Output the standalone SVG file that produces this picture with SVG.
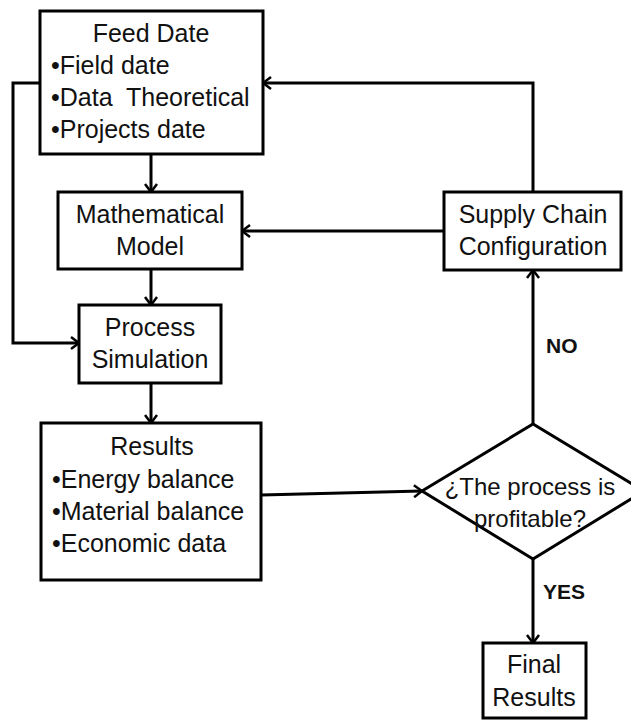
<svg xmlns="http://www.w3.org/2000/svg" width="631" height="720" viewBox="0 0 631 720">
<style>
.box{fill:#fff;stroke:#000;stroke-width:3}
.t{font-family:"Liberation Sans",Arial,sans-serif;font-size:25px;fill:#111}
.c{text-anchor:middle}
.d{font-size:24px}
.b{font-weight:bold;font-size:21px}
.ln{fill:none;stroke:#000;stroke-width:3}
</style>
<defs>
<marker id="ah" viewBox="0 0 10 14" refX="9" refY="7" markerWidth="10" markerHeight="14" markerUnits="userSpaceOnUse" orient="auto">
<path d="M1,1 L9,7 L1,13" fill="none" stroke="#000" stroke-width="2.5"/>
</marker>
</defs>
<rect width="631" height="720" fill="#fff"/>
<g id="connectors">
<path class="ln" d="M151,154 V192" marker-end="url(#ah)"/>
<path class="ln" d="M151,269 V305" marker-end="url(#ah)"/>
<path class="ln" d="M151,383 V423" marker-end="url(#ah)"/>
<path class="ln" d="M40,83 H13 V343 H79" marker-end="url(#ah)"/>
<path class="ln" d="M261,495 L422,491" marker-end="url(#ah)"/>
<path class="ln" d="M533,424 V270" marker-end="url(#ah)"/>
<path class="ln" d="M533,192 V83 H263" marker-end="url(#ah)"/>
<path class="ln" d="M444,231 H242" marker-end="url(#ah)"/>
<path class="ln" d="M533,559 V643" marker-end="url(#ah)"/>
<text class="t b" x="546" y="353">NO</text>
<text class="t b" x="543" y="599">YES</text>
</g>
<g id="feed">
<rect class="box" x="40" y="11" width="223" height="143"/>
<text class="t c" x="151" y="42">Feed Date</text>
<text class="t" x="51" y="74">•Field date</text>
<text class="t" x="51" y="106" xml:space="preserve">•Data  Theoretical</text>
<text class="t" x="51" y="138">•Projects date</text>
</g>
<g id="math">
<rect class="box" x="58" y="192" width="184" height="77"/>
<text class="t c" x="150" y="223">Mathematical</text>
<text class="t c" x="150" y="255">Model</text>
</g>
<g id="process">
<rect class="box" x="79" y="305" width="142" height="78"/>
<text class="t c" x="150" y="336">Process</text>
<text class="t c" x="150" y="368">Simulation</text>
</g>
<g id="results">
<rect class="box" x="41" y="423" width="220" height="157"/>
<text class="t c" x="152" y="455">Results</text>
<text class="t" x="52" y="488">•Energy balance</text>
<text class="t" x="52" y="520">•Material balance</text>
<text class="t" x="52" y="552">•Economic data</text>
</g>
<g id="supply">
<rect class="box" x="444" y="192" width="177" height="78"/>
<text class="t c" x="533" y="223">Supply Chain</text>
<text class="t c" x="533" y="255">Configuration</text>
</g>
<g id="decision">
<polygon class="box" points="422,491 533,424 644,491 533,559"/>
<text class="t c d" x="530" y="495">¿The process is</text>
<text class="t c d" x="530" y="527">profitable?</text>
</g>
<g id="final">
<rect class="box" x="483" y="643" width="103" height="75"/>
<text class="t c" x="534" y="673">Final</text>
<text class="t c" x="534" y="706">Results</text>
</g>
</svg>
